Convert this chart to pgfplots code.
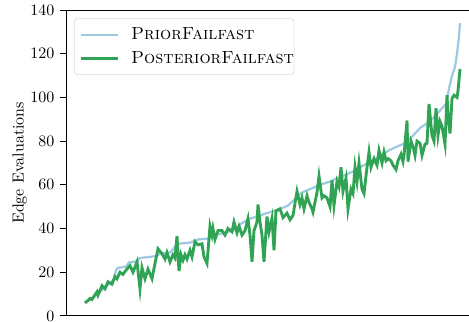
\documentclass[border=0pt]{standalone}
\usepackage{pgfplots}
\pgfplotsset{compat=1.18}
\definecolor{cblue}{HTML}{9ECAE1}
\definecolor{cgreen}{HTML}{31A354}
\begin{document}
\begin{tikzpicture}
\begin{axis}[name=ax, scale only axis, width=251.9pt, height=191.2pt,
  xmin=66, xmax=469, ymin=0, ymax=140,
  axis x line=box, axis y line=left,
  axis line style={-, line width=0.6pt, black},
  xtick=\empty, ytick={0,20,...,140},
  tick align=outside, major tick length=3.75pt,
  tick style={line width=0.6pt, black},
  ylabel={Edge Evaluations},
  ylabel style={at={(axis description cs:-0.115,0.5)}, anchor=center, rotate=0},
  legend cell align=left,
  legend style={at={(0,1)}, anchor=north west, xshift=5pt, yshift=-5.2pt,
    draw=black!15, rounded corners=2pt, fill=white, inner xsep=0pt, inner ysep=2.5pt,
    row sep=0pt, font=\fontsize{11}{13}\selectfont,
    nodes={inner xsep=0pt, inner ysep=3pt}},
  legend image code/.code={\path[draw=none,fill=none] (0pt,0pt) -- (35.5pt,0pt);\draw[#1] (4.2pt,0pt) -- (27.2pt,0pt);},
]
\addplot[cblue, line width=1.4pt] coordinates {
(85,6) (90,7.5) (95,9) (100,11) (105,13) (110,15) (114,17) (116,21) (118,22) (126,22.5)
(129,24.5) (137,25) (140,26.5) (150,27) (157,27.5) (160,28.5) (170,29) (174,31) (177,33)
(190,33.5) (198,35) (210,35.5) (214,37) (225,38) (235,39.5) (242,42.5) (250,44.5) (260,46)
(270,47.5) (280,49) (288,50.5) (295,53.5) (302,56.5) (310,58) (320,60) (330,61.5) (337,63)
(345,64.5) (355,66.5) (362,68.5) (368,70) (375,71.5) (382,74) (390,76) (397,77.5) (405,79)
(412,82) (420,86) (430,89) (440,94) (446,97) (449,104) (452,110) (455,114) (457,120)
(459,128) (460,134)
};
\addlegendentry{\textsc{PriorFailfast}\hspace{5pt}}
\addplot[cgreen, line width=1.8pt] coordinates {
(85,6) (88,7) (90,8) (92,7.5) (94,9) (97,11) (98,9.5) (102,13.8) (105,12.4) (108,15.6)
(112,14.5) (115,18) (117,17) (120,20) (123,19) (127,21.5) (130,23) (133,20) (137,24.7)
(140,12.4) (142,22) (145,17) (148,21.4) (152,17) (155,24) (158,30.7) (162,28.5) (165,26)
(167,29) (170,24.7) (173,28) (175,26.5) (177,36.5) (179,20.5) (181,28) (183,25.5) (185,28)
(187,26) (190,30) (192,27) (195,34) (198,32.5) (202,33) (204,27) (207,24) (210,41) (212,37)
(213,40) (215,35) (218,39) (222,39) (225,37) (228,40) (232,38.5) (234,43) (237,38) (239,41)
(242,37) (245,39) (248,44.5) (250,37) (252,24.8) (254,39) (257,43) (258,51) (260,43)
(262,37) (264,24.8) (267,45.5) (269,38.5) (272,44.7) (274,30) (276,48) (280,49) (283,45)
(287,47) (290,44) (293,46) (297,57) (300,51) (302,54) (304,49) (307,55) (309,52) (312,49)
(313,47.5) (317,56.5) (319,64) (322,54) (324,55) (327,54) (330,50) (332,62) (334,50.5)
(337,61.5) (339,59) (341,68) (343,57) (346,63) (348,49) (351,58) (353,56) (355,68)
(357,61.5) (359,70) (362,58) (364,56) (367,68) (369,75) (371,68) (374,72) (377,69)
(379,75.7) (382,70) (384,75) (386,71) (388,72) (391,71) (393,69) (396,67) (398,71) (401,74)
(403,70.6) (404,73.5) (407,89.4) (408,70.6) (411,80) (413,77.5) (415,73.5) (417,80) (420,79)
(422,73.5) (425,78.6) (427,79) (429,97) (432,82.6) (434,80) (436,95) (438,82.6) (440,89)
(442,86.8) (445,78.6) (447,101) (448,92) (450,83.5) (452,99.5) (454,101) (457,100) (458,103)
(460,113)
};
\addlegendentry{\textsc{PosteriorFailfast}\hspace{5pt}}
\end{axis}
\pgfresetboundingbox
\path[use as bounding box] ([xshift=-41.25pt,yshift=-3.8pt]ax.south west) rectangle ([yshift=6.25pt]ax.north east);
\end{tikzpicture}
\end{document}
